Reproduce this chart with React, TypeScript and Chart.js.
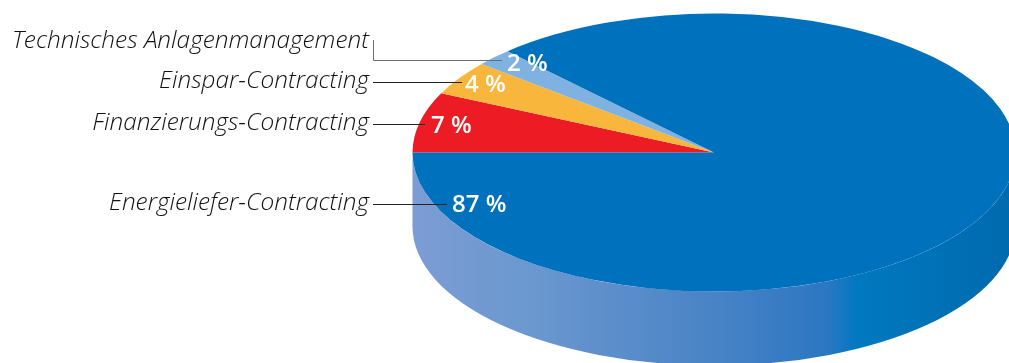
import { useEffect, useRef } from "react";
import { Chart, registerables } from "chart.js";

Chart.register(...registerables);

// Contract types, clockwise from the nine o'clock position
const contractTypes = [
  "Finanzierungs-Contracting",
  "Einspar-Contracting",
  "Technisches Anlagenmanagement",
  "Energieliefer-Contracting",
];
const shares = [7, 4, 2, 87];
const sliceColors = ["#ed1c24", "#f9b63c", "#7fb2e0", "#0071bc"];

// Tilted-disc geometry
const radiusX = 301.5;
const squash = 139 / 301.5;
const depth = 74;

// Callout layout per contract type
const callouts = [
  { textY: 123, lineY: 124, lineEnd: 425, pctX: 431, pctY: 126 },
  { textY: 81, lineY: 82, lineEnd: 462, pctX: 465, pctY: 85 },
  { textY: 41, lineY: 60, lineEnd: 502, pctX: 507, pctY: 64, elbowTop: 40 },
  { textY: 203, lineY: 204, lineEnd: 447, pctX: 452, pctY: 205 },
];

const wallStops: [number, string][] = [
  [0, "#7c9cd4"],
  [0.2, "#6a98cf"],
  [0.3, "#6090cc"],
  [0.45, "#4f87c7"],
  [0.6, "#3a7cc3"],
  [0.69, "#2a77c2"],
  [0.735, "#0079c0"],
  [1, "#0069ad"],
];

const tiltedDisc = {
  id: "tiltedDisc",
  beforeDatasetsDraw(chart: Chart) {
    const { ctx } = chart;
    const arc: any = chart.getDatasetMeta(0).data[0];
    const { x, y } = arc;
    const ry = radiusX * squash;

    // Side wall below the front half of the disc
    const wall = ctx.createLinearGradient(x - radiusX, 0, x + radiusX, 0);
    wallStops.forEach(([at, color]) => wall.addColorStop(at, color));
    ctx.save();
    ctx.beginPath();
    ctx.ellipse(x, y, radiusX, ry, 0, Math.PI, 0, true);
    ctx.ellipse(x, y + depth, radiusX, ry, 0, 0, Math.PI, false);
    ctx.closePath();
    ctx.fillStyle = wall;
    ctx.fill();
    ctx.restore();

    // Flatten the pie about its own centre
    ctx.save();
    ctx.translate(x, y);
    ctx.scale(1, squash);
    ctx.translate(-x, -y);
  },
  afterDatasetsDraw(chart: Chart) {
    const { ctx } = chart;
    ctx.restore();

    const textRight = 369;
    const lineStart = 373;
    contractTypes.forEach((name, i) => {
      const c = callouts[i];
      ctx.save();
      ctx.font = "italic 300 24.4px 'Open Sans'";
      ctx.fillStyle = "#111111";
      ctx.textAlign = "right";
      ctx.textBaseline = "middle";
      ctx.fillText(name, textRight, c.textY);
      ctx.restore();

      ctx.save();
      ctx.strokeStyle = c.elbowTop ? "#6d6d6d" : "#222222";
      ctx.lineWidth = 1;
      ctx.beginPath();
      if (c.elbowTop) {
        ctx.moveTo(lineStart + 0.5, c.elbowTop);
        ctx.lineTo(lineStart + 0.5, c.lineY + 0.5);
      } else {
        ctx.moveTo(lineStart, c.lineY + 0.5);
      }
      ctx.lineTo(c.lineEnd, c.lineY + 0.5);
      ctx.stroke();
      ctx.restore();

      ctx.save();
      ctx.font = "600 24px 'Open Sans'";
      ctx.fillStyle = "#ffffff";
      ctx.textAlign = "left";
      ctx.textBaseline = "middle";
      ctx.fillText(`${shares[i]} %`, c.pctX, c.pctY);
      ctx.restore();
    });
  },
};

export default function App() {
  const canvasRef = useRef<HTMLCanvasElement>(null);

  useEffect(() => {
    document.body.style.margin = "0";
    const chart = new Chart(canvasRef.current!, {
      type: "pie",
      data: {
        labels: contractTypes,
        datasets: [
          {
            data: shares,
            backgroundColor: sliceColors,
            borderWidth: 0,
            clip: false,
          } as any,
        ],
      },
      options: {
        responsive: false,
        animation: false,
        rotation: -90,
        radius: radiusX,
        layout: { padding: { left: 419, bottom: 58 } },
        plugins: { legend: { display: false }, tooltip: { enabled: false } },
      } as any,
      plugins: [tiltedDisc],
    });
    return () => chart.destroy();
  }, []);

  return <canvas ref={canvasRef} width={1009} height={363} style={{ display: "block" }} />;
}
